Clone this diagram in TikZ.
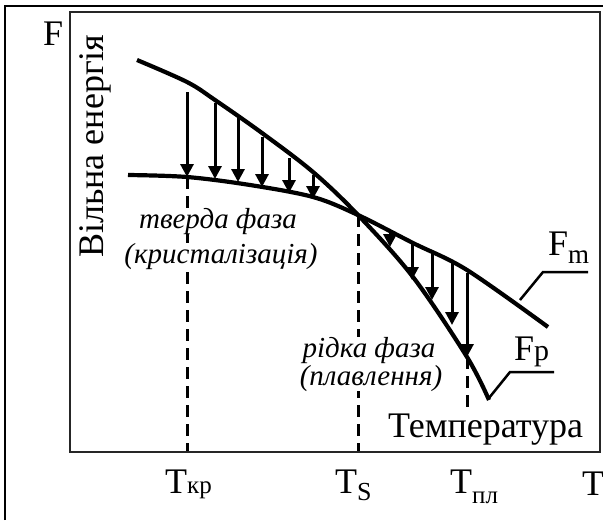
\documentclass[tikz,border=0pt]{standalone}
\usepackage{fontspec}
\setmainfont{Liberation Serif}
\usetikzlibrary{arrows.meta}
\newcommand\lsub[3]{\raisebox{#1}{\fontsize{#2}{#2}\selectfont #3}}
\begin{document}
\begin{tikzpicture}[x=1pt,y=-1pt,
  curve/.style={line width=4.2pt, line join=round},
  frame/.style={line width=2.5pt},
  arr/.style={line width=3pt, -{Triangle[length=13pt,width=13pt]}},
  guide/.style={line width=3pt, dash pattern=on 12pt off 7pt},
  lbl/.style={font=\fontsize{36}{40}\selectfont, inner sep=0pt},
  phase/.style={font=\fontsize{29}{32}\selectfont\itshape, fill=white, inner xsep=2pt, inner ysep=0pt},
  lead/.style={line width=2.5pt}]
\useasboundingbox (0,0) rectangle (603,520);
% frames
\draw[frame] (5,520) -- (5,6) -- (603,6);
\draw[frame, draw=black!85] (70,12) rectangle (600,452);
% key points
\coordinate (X) at (358,215);
\coordinate (b2) at (187,177);
\coordinate (a7) at (467,357);
\coordinate (d1) at (187,451);
\coordinate (d2) at (358,451);
\coordinate (d3) at (467,451);
% dashed guides
\draw[guide] (b2) -- (d1);
\draw[guide] (X) -- (d2);
\draw[guide] (a7) -- (d3);
% phase labels
\node[phase, anchor=base] (tv) at (218,228) {тверда фаза};
\node[phase, anchor=base] (kr) at (221,263) {(кристалізація)};
\node[phase, anchor=base] (rf) at (369,357) {рідка фаза};
\node[phase, anchor=base] (pl) at (371,385) {(плавлення)};
\node[lbl, fill=white, inner sep=2pt, anchor=base west] (temp) at (386,437) {Температура};
% curves
\draw[curve] plot[smooth, tension=0.55] coordinates {(137,60) (187,82) (215,100) (262,133) (313,172) (358,215) (413,277) (467,357) (489,400)};
\draw[curve] plot[smooth, tension=0.55] coordinates {(128,175) (187,177) (250,185) (313,197) (358,215) (413,243) (467,270) (548,327)};
% arrows from upper to lower curve
\foreach \x/\ya/\yb in {187/92/177, 215/103/179, 238/118/182, 262/137/187, 289/158/193, 313/175/199,
                        390/230/247, 412/243/280, 432/252/300, 452/263/325, 467/273/357}
  \draw[arr] (\x,\ya) -- (\x,\yb);
% curve labels with leaders
\coordinate (lm) at (520,300);
\coordinate (lp) at (489,398);
\node[lbl, anchor=base west] (Fm) at (548,255) {F\lsub{-8pt}{27}{m}};
\node[lbl, anchor=base west] (Fp) at (514,360) {F\lsub{0pt}{30}{p}};
\draw[lead] (lm) -- (543,272) -- (588,272);
\draw[lead] (lp) -- (510,372) -- (554,372);
% axis labels
\node[lbl, anchor=base west] (F) at (43,45) {F};
\node[lbl, anchor=base west, rotate=90] (ve) at (103,258) {Вільна енергія};
\node[lbl, anchor=base west] (tkr) at (165,493) {T\lsub{0pt}{25}{кр}};
\node[lbl, anchor=base west] (ts) at (335,493) {T\lsub{-7pt}{26}{S}};
\node[lbl, anchor=base west] (tpl) at (450,493) {T\lsub{-10pt}{25}{пл}};
\node[lbl, anchor=base west] (tt) at (582,495) {T};
\end{tikzpicture}
\end{document}
